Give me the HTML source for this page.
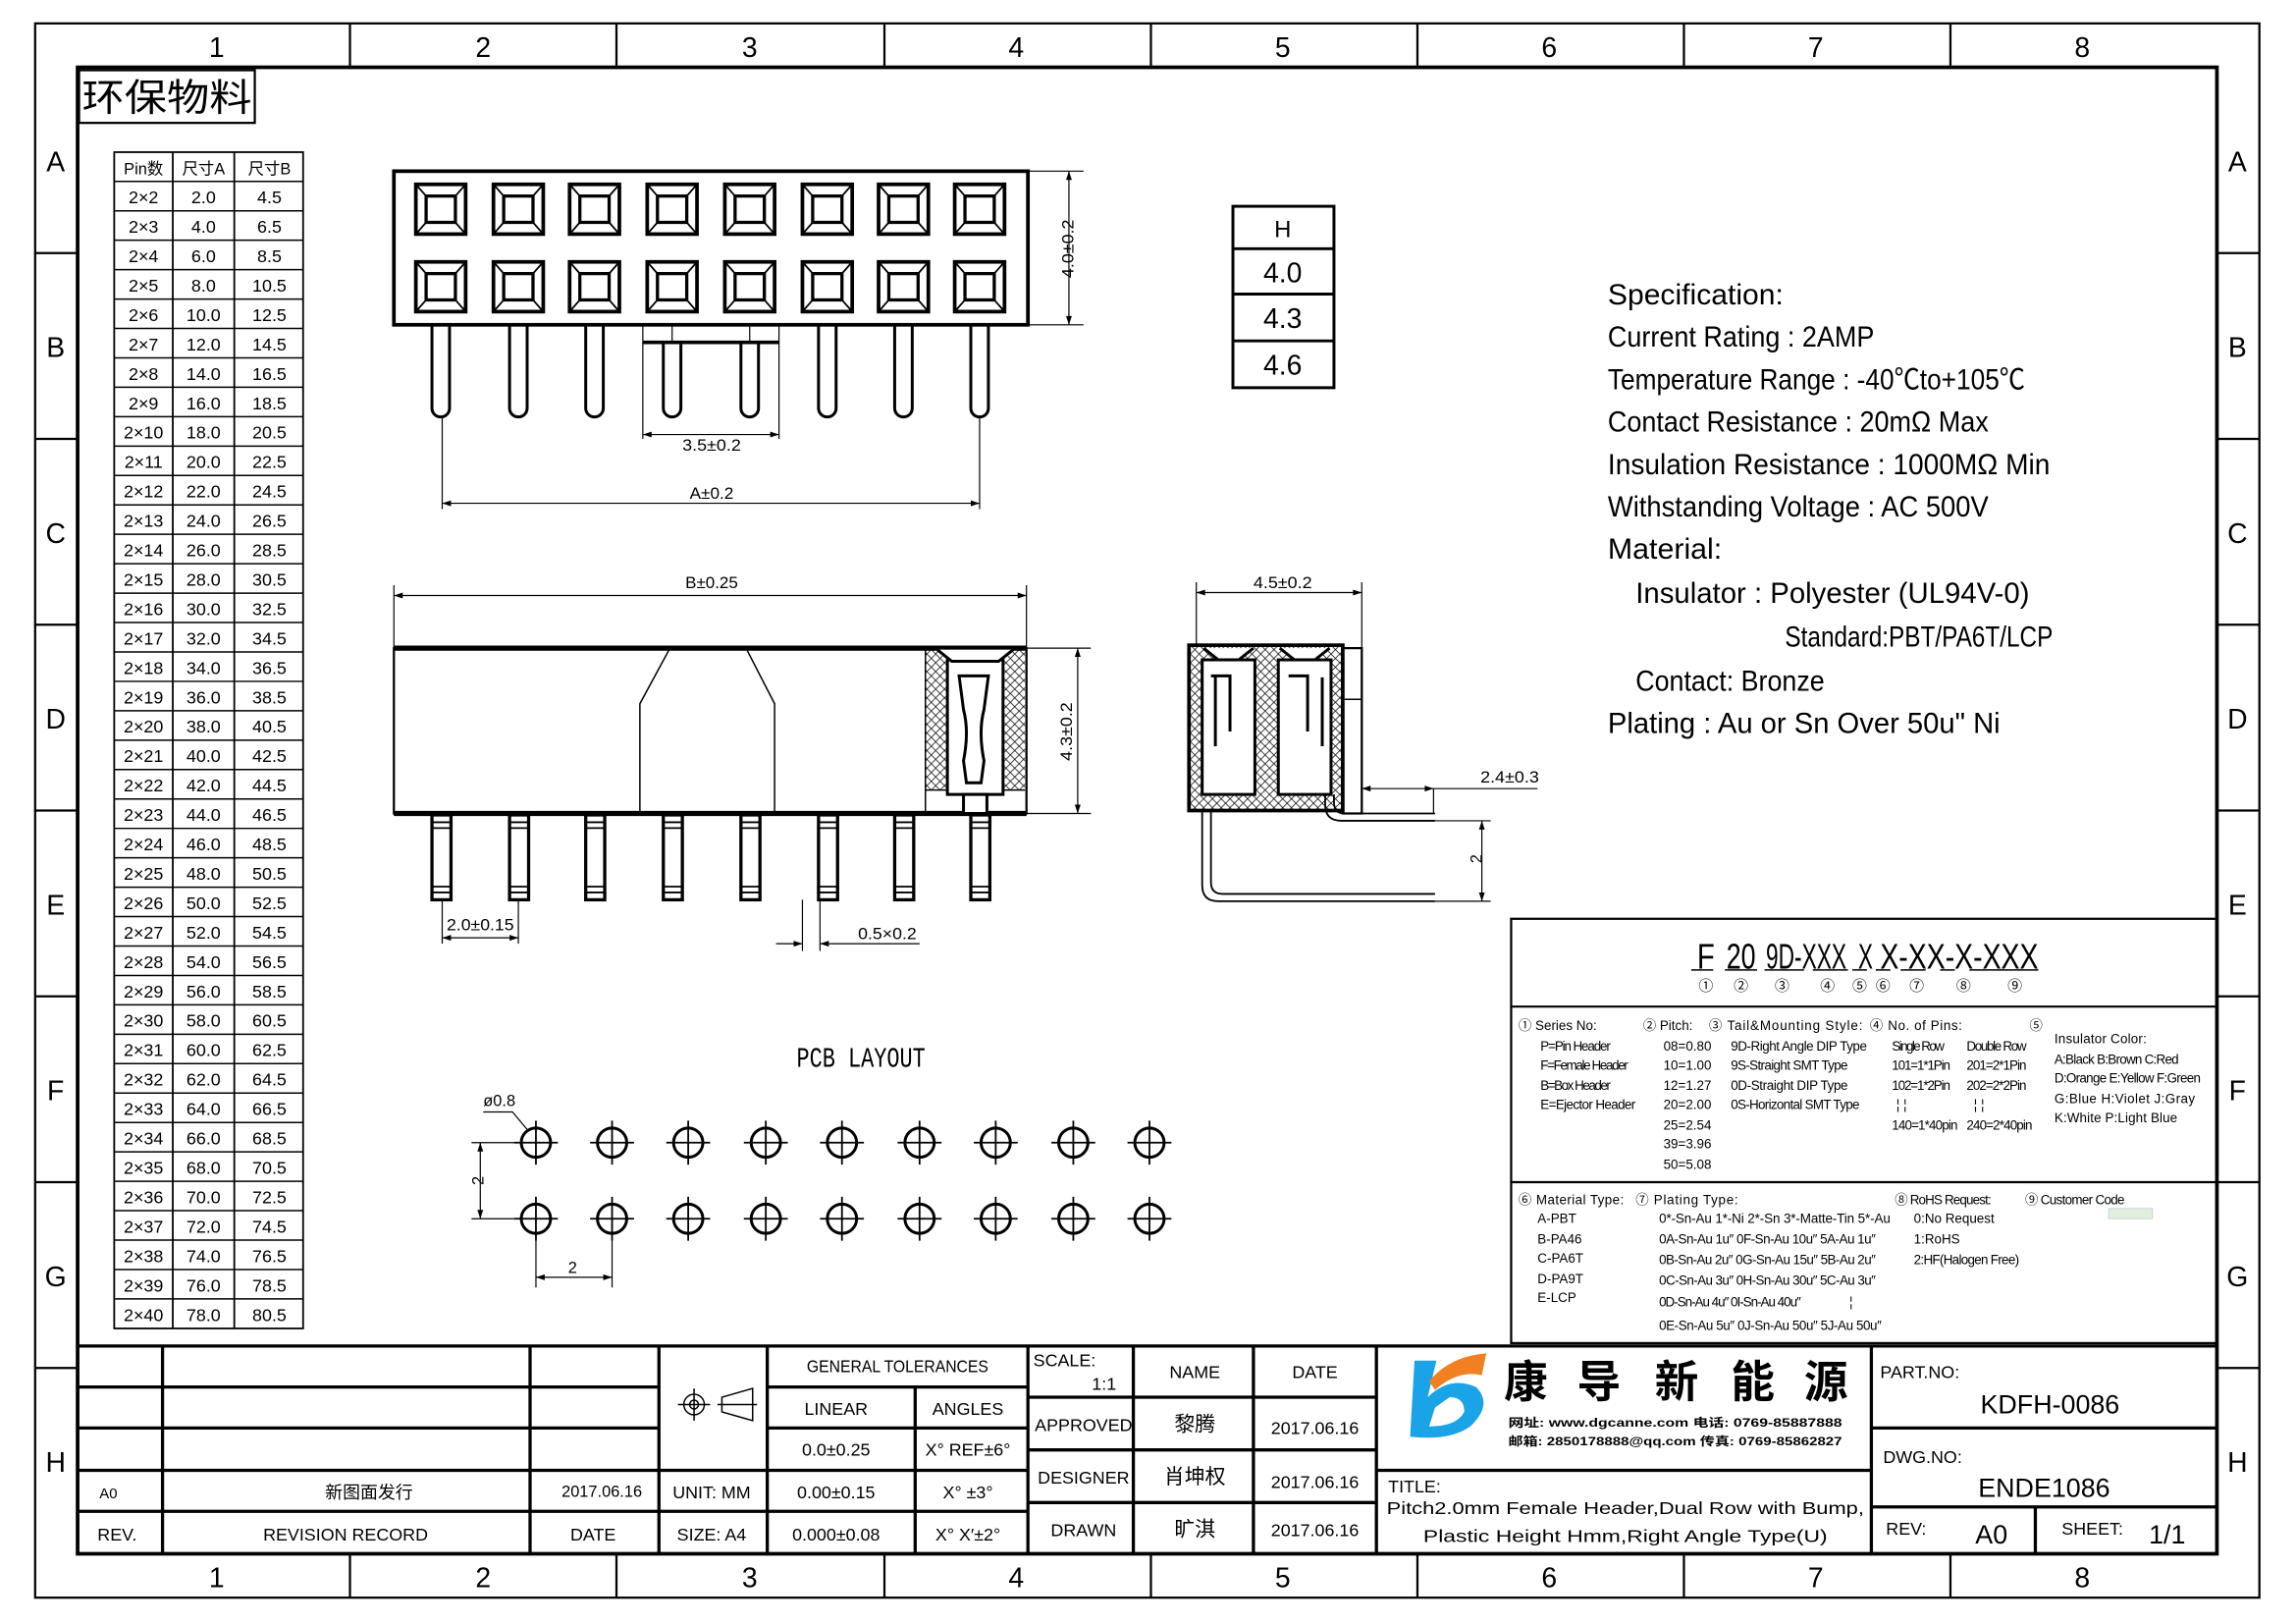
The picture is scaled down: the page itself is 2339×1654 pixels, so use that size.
<!DOCTYPE html>
<html><head><meta charset="utf-8">
<style>
html,body{margin:0;padding:0;background:#fff;}
svg{display:block;}
text{font-family:"Liberation Sans","Noto Sans CJK SC",sans-serif;fill:#000;}
.cn{font-family:"Liberation Sans","Noto Sans CJK SC",sans-serif;}
.m{font-family:"Liberation Mono","Noto Sans CJK SC",monospace;}
</style></head>
<body>
<svg width="2339" height="1654" viewBox="0 0 1568 1110" preserveAspectRatio="none" xmlns="http://www.w3.org/2000/svg">
<defs>
<pattern id="hx" width="6" height="6" patternUnits="userSpaceOnUse">
<path d="M0 0L6 6M6 0L0 6" stroke="#000" stroke-width="0.5"/>
</pattern>
</defs>
<rect width="1568" height="1110" fill="#fff"/>
<!-- Frame -->
<rect x="24" y="16" width="1519" height="1076" fill="none" stroke="#000" stroke-width="1.5"/>
<rect x="53" y="46" width="1461" height="1016" fill="none" stroke="#000" stroke-width="2.5"/>
<g stroke="#000" stroke-width="1.5">
<path d="M239 16V46M421 16V46M604 16V46M786 16V46M968 16V46M1150 16V46M1332 16V46"/>
<path d="M239 1062V1092M421 1062V1092M604 1062V1092M786 1062V1092M968 1062V1092M1150 1062V1092M1332 1062V1092"/>
<path d="M24 173H53M24 300H53M24 427H53M24 554H53M24 681H53M24 808H53M24 935H53"/>
<path d="M1514 173H1543M1514 300H1543M1514 427H1543M1514 554H1543M1514 681H1543M1514 808H1543M1514 935H1543"/>
</g>
<g font-size="19" text-anchor="middle">
<text x="148" y="39">1</text><text x="330" y="39">2</text><text x="512" y="39">3</text><text x="694" y="39">4</text><text x="876" y="39">5</text><text x="1058" y="39">6</text><text x="1240" y="39">7</text><text x="1422" y="39">8</text>
<text x="148" y="1085">1</text><text x="330" y="1085">2</text><text x="512" y="1085">3</text><text x="694" y="1085">4</text><text x="876" y="1085">5</text><text x="1058" y="1085">6</text><text x="1240" y="1085">7</text><text x="1422" y="1085">8</text>
<text x="38" y="117">A</text><text x="38" y="244">B</text><text x="38" y="371">C</text><text x="38" y="498">D</text><text x="38" y="625">E</text><text x="38" y="752">F</text><text x="38" y="879">G</text><text x="38" y="1006">H</text>
<text x="1528" y="117">A</text><text x="1528" y="244">B</text><text x="1528" y="371">C</text><text x="1528" y="498">D</text><text x="1528" y="625">E</text><text x="1528" y="752">F</text><text x="1528" y="879">G</text><text x="1528" y="1006">H</text>
</g>
<rect x="54" y="48" width="120" height="36" fill="none" stroke="#000" stroke-width="1.5"/>
<text x="56" y="76" font-size="26" class="cn" textLength="116" lengthAdjust="spacingAndGlyphs">环保物料</text>

<g id="ptab" stroke="#000" fill="none" stroke-width="1.2"></g>
<g id="ptabtxt" font-size="12" text-anchor="middle" class="m"></g>

<g id="top" stroke="#000" fill="#fff"></g>
<g stroke="#000" stroke-width="2" fill="none">
<rect x="842" y="141" width="69" height="124"/>
<path d="M842 170H911M842 201H911M842 233H911"/>
</g>
<g font-size="19" text-anchor="middle">
<text x="876" y="162" font-size="16">H</text>
<text x="876" y="193">4.0</text><text x="876" y="224">4.3</text><text x="876" y="256">4.6</text>
</g>

<g font-size="20" class="m">
<text x="1098" y="208" textLength="120" lengthAdjust="spacingAndGlyphs">Specification:</text>
<text x="1098" y="237" textLength="182" lengthAdjust="spacingAndGlyphs">Current Rating : 2AMP</text>
<text x="1098" y="266" textLength="285" lengthAdjust="spacingAndGlyphs">Temperature Range : -40℃to+105℃</text>
<text x="1098" y="295" textLength="260" lengthAdjust="spacingAndGlyphs">Contact Resistance : 20mΩ Max</text>
<text x="1098" y="324" textLength="302" lengthAdjust="spacingAndGlyphs">Insulation Resistance : 1000MΩ Min</text>
<text x="1098" y="353" textLength="260" lengthAdjust="spacingAndGlyphs">Withstanding Voltage : AC 500V</text>
<text x="1098" y="382" textLength="78" lengthAdjust="spacingAndGlyphs">Material:</text>
<text x="1117" y="412" textLength="269" lengthAdjust="spacingAndGlyphs">Insulator : Polyester (UL94V-0)</text>
<text x="1219" y="442" textLength="183" lengthAdjust="spacingAndGlyphs">Standard:PBT/PA6T/LCP</text>
<text x="1117" y="472" textLength="129" lengthAdjust="spacingAndGlyphs">Contact: Bronze</text>
<text x="1098" y="501" textLength="268" lengthAdjust="spacingAndGlyphs">Plating : Au or Sn Over 50u" Ni</text>
</g>

<g id="front" stroke="#000" fill="none"></g>
<g id="side" stroke="#000" fill="none"></g>

<g font-size="11" class="m" text-anchor="middle">
<text x="486" y="308" textLength="40" lengthAdjust="spacingAndGlyphs">3.5±0.2</text>
<text x="486" y="341" textLength="30" lengthAdjust="spacingAndGlyphs">A±0.2</text>
<text x="486" y="402" textLength="36" lengthAdjust="spacingAndGlyphs">B±0.25</text>
<text x="876" y="402" textLength="40" lengthAdjust="spacingAndGlyphs">4.5±0.2</text>
<text x="328" y="636" textLength="46" lengthAdjust="spacingAndGlyphs">2.0±0.15</text>
<text x="606" y="642" textLength="40" lengthAdjust="spacingAndGlyphs">0.5×0.2</text>
<text x="1031" y="535" textLength="40" lengthAdjust="spacingAndGlyphs">2.4±0.3</text>
<text transform="translate(733,170) rotate(-90)" textLength="40" lengthAdjust="spacingAndGlyphs">4.0±0.2</text>
<text transform="translate(732,500) rotate(-90)" textLength="40" lengthAdjust="spacingAndGlyphs">4.3±0.2</text>
<text transform="translate(1012,587) rotate(-90)">2</text>
<text transform="translate(330,807) rotate(-90)">2</text>
<text x="391" y="870">2</text>
<text x="341" y="756">ø0.8</text>
</g>

<text x="588" y="729" font-size="19" text-anchor="middle" class="m" textLength="88" lengthAdjust="spacingAndGlyphs">PCB LAYOUT</text>
<g id="pcb" stroke="#000" fill="none"></g>

<g stroke="#000" fill="none" stroke-width="1.5">
<rect x="1032" y="628" width="482" height="290"/>
<path d="M1032 688H1514M1032 808H1514"/>
<path d="M1155 663H1170M1178 663H1200M1205 663H1232M1238 663H1262M1265 663H1275M1281 663H1291M1298 663H1315M1325 663H1335M1345 663H1392" stroke-width="1"/>
</g>
<g font-size="24" class="m">
<text x="1159" y="662" textLength="12" lengthAdjust="spacingAndGlyphs">F</text>
<text x="1179" y="662" textLength="20" lengthAdjust="spacingAndGlyphs">20</text>
<text x="1206" y="662" textLength="55" lengthAdjust="spacingAndGlyphs">9D-XXX</text>
<text x="1269" y="662" textLength="10" lengthAdjust="spacingAndGlyphs">X</text>
<text x="1284" y="662" textLength="108" lengthAdjust="spacingAndGlyphs">X-XX-X-XXX</text>
</g>
<g font-size="10" text-anchor="middle" class="cn">
<text x="1165" y="677">①</text><text x="1189" y="677">②</text><text x="1217" y="677">③</text><text x="1248" y="677">④</text><text x="1270" y="677">⑤</text><text x="1286" y="677">⑥</text><text x="1309" y="677">⑦</text><text x="1341" y="677">⑧</text><text x="1376" y="677">⑨</text>
</g>
<g font-size="9" class="m" lengthAdjust="spacingAndGlyphs">
<text x="1037" y="704">① <tspan>Series No:</tspan></text>
<text x="1052" y="718" textLength="48">P=Pin Header</text>
<text x="1052" y="731" textLength="60">F=Female Header</text>
<text x="1052" y="745" textLength="48">B=Box Header</text>
<text x="1052" y="758" textLength="65">E=Ejector Header</text>
<text x="1122" y="704">② Pitch:</text>
<text x="1136" y="718">08=0.80</text><text x="1136" y="731">10=1.00</text><text x="1136" y="745">12=1.27</text><text x="1136" y="758">20=2.00</text><text x="1136" y="772">25=2.54</text><text x="1136" y="785">39=3.96</text><text x="1136" y="799">50=5.08</text>
<text x="1167" y="704" textLength="105">③ Tail&amp;Mounting Style:</text>
<text x="1182" y="718" textLength="93">9D-Right Angle DIP Type</text>
<text x="1182" y="731" textLength="80">9S-Straight SMT Type</text>
<text x="1182" y="745" textLength="80">0D-Straight DIP Type</text>
<text x="1182" y="758" textLength="88">0S-Horizontal SMT Type</text>
<text x="1277" y="704" textLength="63">④ No. of Pins:</text>
<text x="1292" y="718" textLength="36">Single Row</text><text x="1343" y="718" textLength="41">Double Row</text>
<text x="1292" y="731" textLength="40">101=1*1Pin</text><text x="1343" y="731" textLength="41">201=2*1Pin</text>
<text x="1292" y="745" textLength="40">102=1*2Pin</text><text x="1343" y="745" textLength="41">202=2*2Pin</text>
<text x="1295" y="758">¦ ¦</text><text x="1348" y="758">¦ ¦</text>
<text x="1292" y="772" textLength="45">140=1*40pin</text><text x="1343" y="772" textLength="45">240=2*40pin</text>
<text x="1386" y="704">⑤</text>
<text x="1403" y="713" textLength="63">Insulator Color:</text>
<text x="1403" y="727" textLength="85">A:Black B:Brown C:Red</text>
<text x="1403" y="740" textLength="100">D:Orange E:Yellow F:Green</text>
<text x="1403" y="754" textLength="96">G:Blue H:Violet J:Gray</text>
<text x="1403" y="767" textLength="84">K:White P:Light Blue</text>
<text x="1037" y="823" textLength="72">⑥ Material Type:</text>
<text x="1050" y="836">A-PBT</text><text x="1050" y="850">B-PA46</text><text x="1050" y="863">C-PA6T</text><text x="1050" y="877">D-PA9T</text><text x="1050" y="890">E-LCP</text>
<text x="1117" y="823" textLength="70">⑦ Plating Type:</text>
<text x="1133" y="836" textLength="158">0*-Sn-Au 1*-Ni 2*-Sn 3*-Matte-Tin 5*-Au</text>
<text x="1133" y="850" textLength="148">0A-Sn-Au 1u″ 0F-Sn-Au 10u″ 5A-Au 1u″</text>
<text x="1133" y="864" textLength="148">0B-Sn-Au 2u″ 0G-Sn-Au 15u″ 5B-Au 2u″</text>
<text x="1133" y="878" textLength="148">0C-Sn-Au 3u″ 0H-Sn-Au 30u″ 5C-Au 3u″</text>
<text x="1133" y="893" textLength="97">0D-Sn-Au 4u″ 0I-Sn-Au 40u″</text><text x="1263" y="893">¦</text>
<text x="1133" y="909" textLength="152">0E-Sn-Au 5u″ 0J-Sn-Au 50u″ 5J-Au 50u″</text>
<text x="1294" y="823" textLength="66">⑧ RoHS Request:</text>
<text x="1307" y="836">0:No Request</text>
<text x="1307" y="850">1:RoHS</text>
<text x="1307" y="864" textLength="72">2:HF(Halogen Free)</text>
<text x="1383" y="823" textLength="68">⑨ Customer Code</text>
</g>
<rect x="1440" y="826" width="30" height="7" fill="#dfeedd" stroke="#bcd" stroke-width="0.5"/>

<g stroke="#000" stroke-width="2.2" fill="none">
<path d="M53 920H1514"/>
<path d="M53 948H450M53 976H450M53 1005H524M53 1033H702"/>
<path d="M524 948H702M524 976H702M524 1005H702"/>
<path d="M111 920V1062M362 920V1062M450 920V1062M524 920V1062M625 948V1062M702 920V1062M774 920V1062M856 920V1062M940 920V1062M1278 920V1062M1390 1030V1062"/>
<path d="M702 955H940M702 991H940M702 1027H940"/>
<path d="M940 1005H1278M1278 976H1514M1278 1030H1514"/>
</g>
<g stroke="#000" fill="none" stroke-width="1">
<circle cx="474" cy="960" r="7"/><circle cx="474" cy="960" r="3"/>
<path d="M463 960H485M474 949V971"/>
<path d="M493 955L514 949V971L493 965Z M490 960H517"/>
</g>
<g font-size="12" class="m" text-anchor="middle">
<text x="613" y="938" textLength="124" lengthAdjust="spacingAndGlyphs">GENERAL TOLERANCES</text>
<text x="571" y="967">LINEAR</text><text x="661" y="967">ANGLES</text>
<text x="571" y="995">0.0±0.25</text><text x="661" y="995">X° REF±6°</text>
<text x="571" y="1024">0.00±0.15</text><text x="661" y="1024">X° ±3°</text>
<text x="571" y="1053">0.000±0.08</text><text x="661" y="1053">X° X′±2°</text>
<text x="486" y="1024">UNIT: MM</text><text x="486" y="1053">SIZE: A4</text>
<text x="74" y="1024" font-size="10">A0</text>
<text x="252" y="1024">新图面发行</text>
<text x="411" y="1023" font-size="11">2017.06.16</text>
<text x="80" y="1053">REV.</text>
<text x="236" y="1053">REVISION RECORD</text>
<text x="405" y="1053">DATE</text>
<text x="727" y="934">SCALE:</text>
<text x="754" y="950">1:1</text>
<text x="816" y="942">NAME</text><text x="898" y="942">DATE</text>
<text x="740" y="978">APPROVED</text><text x="816" y="978" font-size="14">黎腾</text><text x="898" y="980">2017.06.16</text>
<text x="740" y="1014">DESIGNER</text><text x="816" y="1014" font-size="14">肖坤权</text><text x="898" y="1017">2017.06.16</text>
<text x="740" y="1050">DRAWN</text><text x="816" y="1050" font-size="14">旷淇</text><text x="898" y="1050">2017.06.16</text>
<text x="966" y="1020" font-size="12">TITLE:</text>
<text x="1110" y="1035" font-size="12" textLength="326" lengthAdjust="spacingAndGlyphs">Pitch2.0mm Female Header,Dual Row with Bump,</text>
<text x="1110" y="1054" font-size="12" textLength="276" lengthAdjust="spacingAndGlyphs">Plastic Height Hmm,Right Angle Type(U)</text>
</g>
<g font-size="12" class="m">
<text x="1284" y="942">PART.NO:</text>
<text x="1286" y="1000">DWG.NO:</text>
<text x="1288" y="1049">REV:</text>
<text x="1408" y="1049">SHEET:</text>
</g>
<g font-size="18" class="m" text-anchor="middle">
<text x="1400" y="966">KDFH-0086</text>
<text x="1396" y="1023">ENDE1086</text>
<text x="1360" y="1055">A0</text>
<text x="1480" y="1055">1/1</text>
</g>
<path d="M966 930L981 930L975 955Q990 940 1008 948Q1020 960 1004 975Q990 985 963 982Z M980 962L976 975Q995 975 1000 965Q1000 955 990 955Z" fill="#1aa3e6" fill-rule="evenodd"/>
<path d="M976 944Q990 927 1015 925L1012 940Q996 936 980 950Z" fill="#f08020"/>
<g font-size="30" font-weight="bold" class="cn">
<text x="1027" y="955">康</text><text x="1077" y="955">导</text><text x="1130" y="955">新</text><text x="1182" y="955">能</text><text x="1232" y="955">源</text>
</g>
<g font-size="8" font-weight="bold" class="cn">
<text x="1030" y="975" textLength="228" lengthAdjust="spacingAndGlyphs">网址: www.dgcanne.com   电话: 0769-85887888</text>
<text x="1030" y="988" textLength="228" lengthAdjust="spacingAndGlyphs">邮箱: 2850178888@qq.com 传真: 0769-85862827</text>
</g>

<script>
(function(){
var NS="http://www.w3.org/2000/svg";
function el(p,t,a){var e=document.createElementNS(NS,t);for(var k in a)e.setAttribute(k,a[k]);p.appendChild(e);return e;}
var pt=document.getElementById('ptab'), ptt=document.getElementById('ptabtxt');
el(pt,'rect',{x:78,y:104,width:129,height:804});
el(pt,'path',{d:'M118 104V908M160 104V908'});
var d='M78 124H207';
for(var i=1;i<39;i++){var y=124+i*20.1;d+='M78 '+y.toFixed(1)+'H207';}
el(pt,'path',{d:d,'stroke-width':1});
function tx(p,x,y,s,extra){var t=el(p,'text',Object.assign({x:x,y:y},extra||{}));t.textContent=s;return t;}
tx(ptt,98,119,'Pin数',{'font-size':11});tx(ptt,139,119,'尺寸A',{'font-size':11});tx(ptt,184,119,'尺寸B',{'font-size':11});
for(var n=2;n<=40;n++){var y=124+(n-2)*20.1+15;var a=(n-1)*2;tx(ptt,98,y,'2×'+n);tx(ptt,139,y,a.toFixed(1));tx(ptt,184,y,(a+2.5).toFixed(1));}
var tp=document.getElementById('top');
el(tp,'rect',{x:269,y:117,width:433,height:105,'stroke-width':2.5,fill:'none'});
var cx=[301,354,406,459,512,565,617,669];
cx.forEach(function(c,ci){[143,196].forEach(function(cy){
 el(tp,'rect',{x:c-17,y:cy-17,width:34,height:34,'stroke-width':2.5,fill:'none'});
 el(tp,'rect',{x:c-10,y:cy-9,width:20,height:18,'stroke-width':2.2,fill:'none'});
 el(tp,'path',{d:'M'+(c-17)+' '+(cy-17)+'L'+(c-10)+' '+(cy-9)+'M'+(c+17)+' '+(cy-17)+'L'+(c+10)+' '+(cy-9)+'M'+(c-17)+' '+(cy+17)+'L'+(c-10)+' '+(cy+9)+'M'+(c+17)+' '+(cy+17)+'L'+(c+10)+' '+(cy+9),'stroke-width':1.2});
});
 var top=(ci==3||ci==4)?234:222;
 el(tp,'path',{d:'M'+(c-6)+' '+top+'V279A6 6 0 0 0 '+(c+6)+' 279V'+top,'stroke-width':2,fill:'none'});
});
el(tp,'path',{d:'M439 234H532','stroke-width':2.5});
el(tp,'path',{d:'M439 222V300M532 222V300M459 222V234M512 222V234M302 285V348M669 285V348M702 117H740M702 222H740M730 117V222M439 297H532M302 344H669','stroke-width':0.8,fill:'none'});
function arr(p,x,y,dir){var s=6,w=2;var dd;
 if(dir=='r')dd='M'+x+' '+y+'l'+(-s)+' '+(-w)+'v'+(2*w)+'z';
 if(dir=='l')dd='M'+x+' '+y+'l'+s+' '+(-w)+'v'+(2*w)+'z';
 if(dir=='u')dd='M'+x+' '+y+'l'+(-w)+' '+s+'h'+(2*w)+'z';
 if(dir=='d')dd='M'+x+' '+y+'l'+(-w)+' '+(-s)+'h'+(2*w)+'z';
 el(p,'path',{d:dd,fill:'#000',stroke:'none'});}
arr(tp,439,297,'l');arr(tp,532,297,'r');arr(tp,302,344,'l');arr(tp,669,344,'r');arr(tp,730,117,'u');arr(tp,730,222,'d');
var fr=document.getElementById('front');
el(fr,'rect',{x:632,y:444,width:68,height:96,fill:'url(#hx)',stroke:'none'});
el(fr,'rect',{x:269,y:443,width:432,height:113,'stroke-width':1.5});
el(fr,'path',{d:'M269 443H701M269 556H701','stroke-width':3.5});
el(fr,'path',{d:'M437 556V481L457 444M529 556V481L510 444M632 444V556M632 540H700','stroke-width':1});
el(fr,'rect',{x:647,y:451,width:38,height:92,fill:'#fff','stroke-width':2});
el(fr,'path',{d:'M655 462H675L672 485Q668 500 672 520L670 535H660L658 520Q662 500 658 485Z','stroke-width':2,fill:'none'});
el(fr,'path',{d:'M640 444L650 452H682L692 444','stroke-width':2,fill:'#fff'});
el(fr,'rect',{x:658,y:543,width:16,height:13,'stroke-width':2,fill:'#fff'});
cx.forEach(function(c){el(fr,'rect',{x:c-6,y:557,width:13,height:58,'stroke-width':2.2,fill:'#fff'});
 el(fr,'path',{d:'M'+(c-6)+' 562H'+(c+7)+'M'+(c-6)+' 566H'+(c+7)+'M'+(c-6)+' 606H'+(c+7)+'M'+(c-6)+' 610H'+(c+7),'stroke-width':1.2});});
el(fr,'path',{d:'M269 443V400M701 443V400M269 407H701M701 443H745M701 556H745M736 443V556M302 615V645M354 615V645M302 641H354M548 615V650M560 615V650M530 645H548M560 645H628','stroke-width':0.8});
arr(fr,269,407,'l');arr(fr,701,407,'r');arr(fr,736,443,'u');arr(fr,736,556,'d');arr(fr,302,641,'l');arr(fr,354,641,'r');arr(fr,548,645,'r');arr(fr,560,645,'l');
var sd=document.getElementById('side');
el(sd,'rect',{x:812,y:441,width:105,height:113,fill:'url(#hx)',stroke:'none'});
el(sd,'rect',{x:821,y:451,width:36,height:92,fill:'#fff','stroke-width':2});
el(sd,'rect',{x:873,y:451,width:36,height:92,fill:'#fff','stroke-width':2});
el(sd,'path',{d:'M827 462H840V500M880 462H893V500M830 463V510M903 463V510','stroke-width':2});
el(sd,'path',{d:'M822 443L832 451H846L856 443M874 443L884 451H898L908 443','stroke-width':2,fill:'#fff'});
el(sd,'rect',{x:812,y:441,width:105,height:113,'stroke-width':2.5});
el(sd,'rect',{x:917,y:443,width:13,height:113,'stroke-width':1.5});
el(sd,'path',{d:'M917 478H930','stroke-width':1});
el(sd,'path',{d:'M821 554V605Q821 616 832 616H980M827 554V603Q827 611 835 611H980M905 543V550Q905 561 916 561H980M911 543V548Q911 556 918 556H980','stroke-width':1.2});
el(sd,'path',{d:'M817 441V398M930 443V398M817 405H930M930 539H1050M979 539V556M980 561H1018M980 616H1018M1012 561V616','stroke-width':0.8});
arr(sd,817,405,'l');arr(sd,930,405,'r');arr(sd,930,539,'l');arr(sd,979,539,'r');arr(sd,1012,561,'u');arr(sd,1012,616,'d');
var pc=document.getElementById('pcb');
var hx=[366,418,470,523,575,628,680,733,785];
hx.forEach(function(x){[781,833].forEach(function(y){el(pc,'circle',{cx:x,cy:y,r:10,'stroke-width':2});el(pc,'path',{d:'M'+(x-15)+' '+y+'H'+(x+15)+'M'+x+' '+(y-15)+'V'+(y+15),'stroke-width':1.2});});});
el(pc,'path',{d:'M351 781H322M351 833H322M328 781V833M366 848V880M418 848V880M366 873H418M330 760H350L360 772','stroke-width':0.8});
arr(pc,328,781,'u');arr(pc,328,833,'d');arr(pc,366,873,'l');arr(pc,418,873,'r');
})();
</script>
</svg>
</body></html>
